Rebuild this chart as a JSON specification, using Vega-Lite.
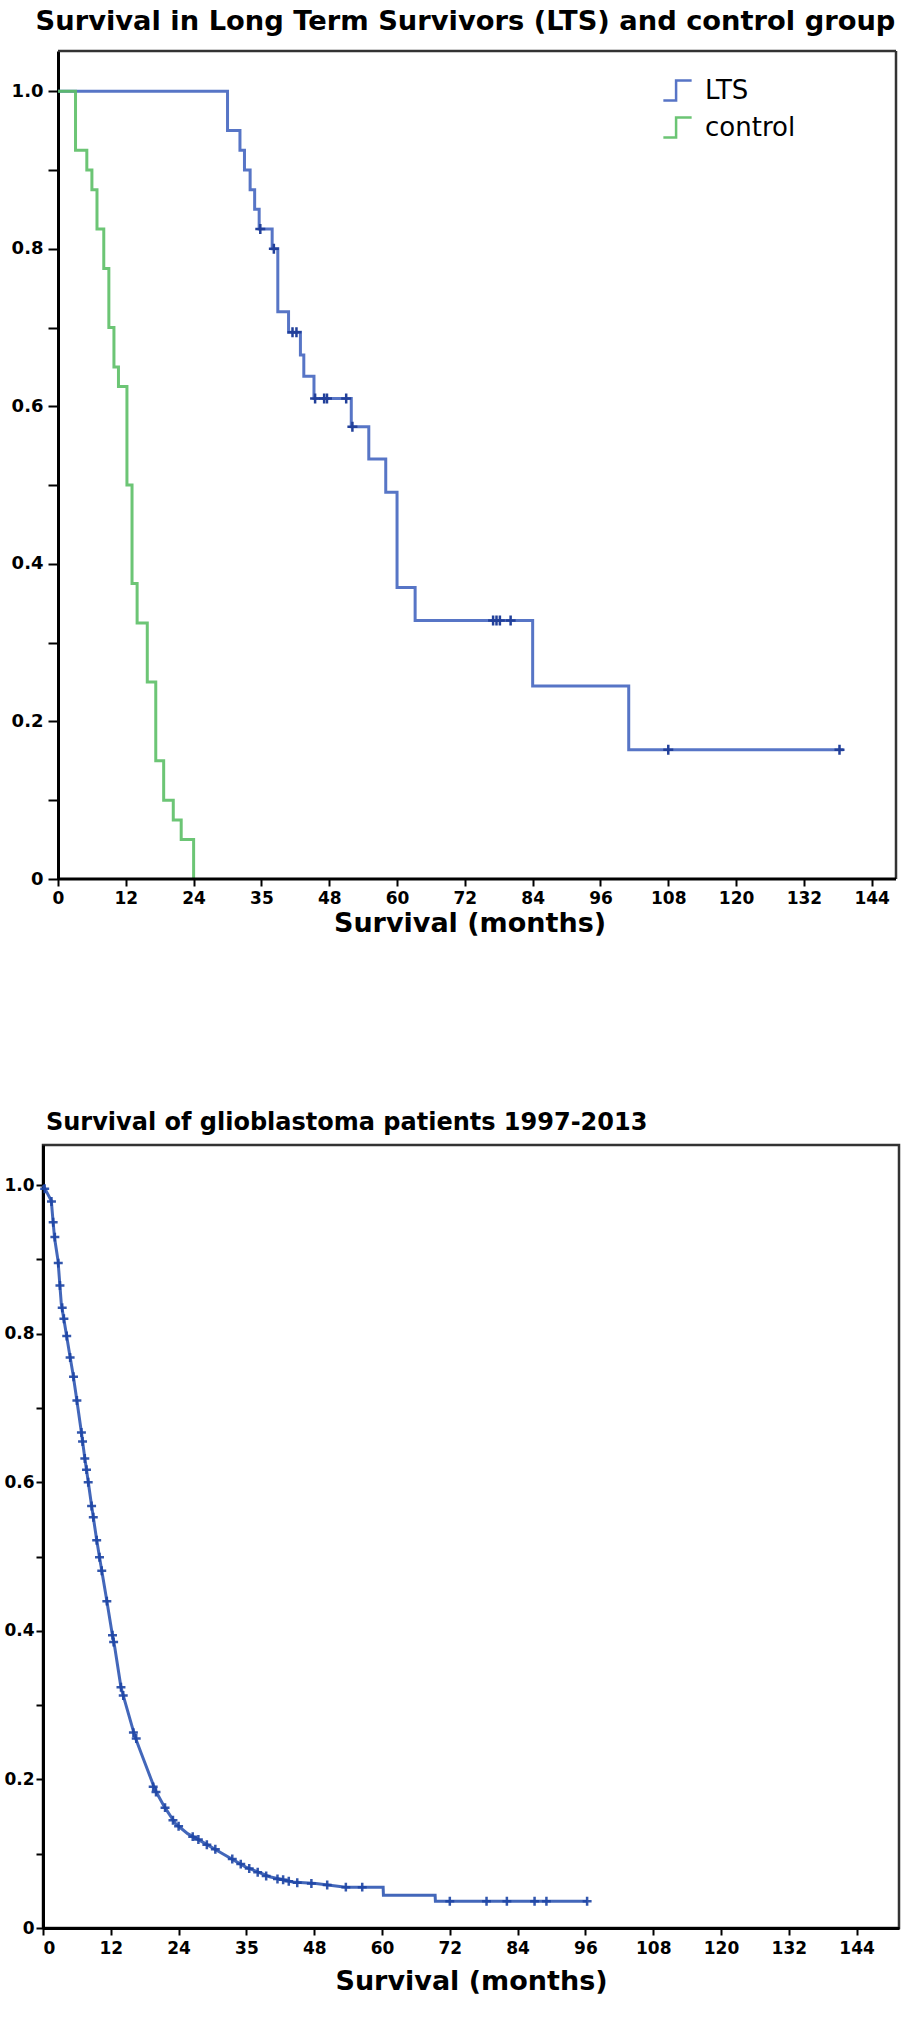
{
  "$schema": "https://vega.github.io/schema/vega-lite/v6.json",
  "background": "white",
  "padding": {"left": 0, "top": 8, "right": 0, "bottom": 0},
  "datasets": {
    "km2": [
      {"group": "LTS", "t": 0, "S": 1.0},
      {"group": "LTS", "t": 30, "S": 0.95},
      {"group": "LTS", "t": 32.2, "S": 0.925},
      {"group": "LTS", "t": 33, "S": 0.9},
      {"group": "LTS", "t": 34, "S": 0.875},
      {"group": "LTS", "t": 34.8, "S": 0.85},
      {"group": "LTS", "t": 35.6, "S": 0.825},
      {"group": "LTS", "t": 37.9, "S": 0.8},
      {"group": "LTS", "t": 38.9, "S": 0.72},
      {"group": "LTS", "t": 40.8, "S": 0.694},
      {"group": "LTS", "t": 42.9, "S": 0.665},
      {"group": "LTS", "t": 43.5, "S": 0.638},
      {"group": "LTS", "t": 45.3, "S": 0.61},
      {"group": "LTS", "t": 51.9, "S": 0.574},
      {"group": "LTS", "t": 55, "S": 0.533},
      {"group": "LTS", "t": 58, "S": 0.491},
      {"group": "LTS", "t": 60, "S": 0.37},
      {"group": "LTS", "t": 63.2, "S": 0.328},
      {"group": "LTS", "t": 84, "S": 0.245},
      {"group": "LTS", "t": 101, "S": 0.164},
      {"group": "LTS", "t": 139, "S": 0.164},
      {"group": "control", "t": 0, "S": 1.0},
      {"group": "control", "t": 3.1, "S": 0.925},
      {"group": "control", "t": 5.1, "S": 0.9},
      {"group": "control", "t": 6.0, "S": 0.875},
      {"group": "control", "t": 6.9, "S": 0.825},
      {"group": "control", "t": 8.1, "S": 0.775},
      {"group": "control", "t": 9.0, "S": 0.7},
      {"group": "control", "t": 9.9, "S": 0.65},
      {"group": "control", "t": 10.7, "S": 0.625},
      {"group": "control", "t": 12.2, "S": 0.5},
      {"group": "control", "t": 13.1, "S": 0.375},
      {"group": "control", "t": 14.0, "S": 0.325},
      {"group": "control", "t": 15.8, "S": 0.25},
      {"group": "control", "t": 17.3, "S": 0.15},
      {"group": "control", "t": 18.7, "S": 0.1},
      {"group": "control", "t": 20.4, "S": 0.075},
      {"group": "control", "t": 21.8, "S": 0.05},
      {"group": "control", "t": 24.0, "S": 0.0}
    ],
    "ltsCens": [
      {"t": 35.8, "S": 0.825}, {"t": 38.2, "S": 0.8}, {"t": 41.5, "S": 0.694}, {"t": 42.2, "S": 0.694},
      {"t": 45.5, "S": 0.61}, {"t": 47.1, "S": 0.61}, {"t": 47.6, "S": 0.61}, {"t": 51.0, "S": 0.61},
      {"t": 52.1, "S": 0.574}, {"t": 77.0, "S": 0.328}, {"t": 77.6, "S": 0.328}, {"t": 78.2, "S": 0.328},
      {"t": 80.1, "S": 0.328}, {"t": 108, "S": 0.164}, {"t": 138.3, "S": 0.164}
    ],
    "gbm": [
      {"t": 0, "S": 1.0}, {"t": 1.47, "S": 0.979}, {"t": 1.77, "S": 0.952}, {"t": 2.06, "S": 0.928},
      {"t": 2.65, "S": 0.899}, {"t": 3.24, "S": 0.84}, {"t": 4.12, "S": 0.8}, {"t": 4.7, "S": 0.773},
      {"t": 5.3, "S": 0.746}, {"t": 5.9, "S": 0.715}, {"t": 6.78, "S": 0.668}, {"t": 7.37, "S": 0.634},
      {"t": 7.96, "S": 0.603}, {"t": 8.55, "S": 0.571}, {"t": 9.43, "S": 0.526}, {"t": 10.0, "S": 0.499},
      {"t": 11.2, "S": 0.445}, {"t": 12.2, "S": 0.398}, {"t": 12.7, "S": 0.378}, {"t": 13.8, "S": 0.324},
      {"t": 14.8, "S": 0.297}, {"t": 16.3, "S": 0.257}, {"t": 17.4, "S": 0.235}, {"t": 19.9, "S": 0.185},
      {"t": 21.5, "S": 0.163}, {"t": 23.5, "S": 0.14}, {"t": 25.6, "S": 0.127}, {"t": 28.2, "S": 0.116},
      {"t": 31.8, "S": 0.1}, {"t": 35.9, "S": 0.082}, {"t": 40.1, "S": 0.069}, {"t": 44.2, "S": 0.062},
      {"t": 48.3, "S": 0.06}, {"t": 53.6, "S": 0.055}, {"t": 60.2, "S": 0.055}, {"t": 60.25, "S": 0.044},
      {"t": 69.4, "S": 0.044}, {"t": 69.45, "S": 0.036}, {"t": 96.3, "S": 0.036}
    ],
    "gbmCens": [
      {"t": 0.3, "S": 0.995}, {"t": 1.5, "S": 0.978}, {"t": 1.8, "S": 0.95}, {"t": 2.1, "S": 0.93},
      {"t": 2.7, "S": 0.895}, {"t": 3.0, "S": 0.865}, {"t": 3.4, "S": 0.835}, {"t": 3.7, "S": 0.82},
      {"t": 4.2, "S": 0.797}, {"t": 4.8, "S": 0.768}, {"t": 5.4, "S": 0.742}, {"t": 6.0, "S": 0.71},
      {"t": 6.8, "S": 0.667}, {"t": 7.0, "S": 0.655}, {"t": 7.4, "S": 0.632}, {"t": 7.7, "S": 0.617},
      {"t": 8.0, "S": 0.6}, {"t": 8.6, "S": 0.568}, {"t": 8.9, "S": 0.553}, {"t": 9.5, "S": 0.522},
      {"t": 10.0, "S": 0.499}, {"t": 10.4, "S": 0.481}, {"t": 11.3, "S": 0.44}, {"t": 12.3, "S": 0.394},
      {"t": 12.5, "S": 0.385}, {"t": 13.8, "S": 0.324}, {"t": 14.2, "S": 0.313}, {"t": 16.0, "S": 0.263},
      {"t": 16.5, "S": 0.255}, {"t": 19.5, "S": 0.19}, {"t": 20.0, "S": 0.183}, {"t": 21.6, "S": 0.162},
      {"t": 23.0, "S": 0.145}, {"t": 24.0, "S": 0.137}, {"t": 26.5, "S": 0.123}, {"t": 27.5, "S": 0.119},
      {"t": 29.0, "S": 0.112}, {"t": 30.5, "S": 0.106}, {"t": 33.5, "S": 0.093}, {"t": 35.0, "S": 0.086},
      {"t": 36.5, "S": 0.08}, {"t": 38.0, "S": 0.075}, {"t": 39.5, "S": 0.07}, {"t": 41.5, "S": 0.066},
      {"t": 42.5, "S": 0.065}, {"t": 43.5, "S": 0.063}, {"t": 45.0, "S": 0.061}, {"t": 47.5, "S": 0.06},
      {"t": 50.3, "S": 0.058}, {"t": 53.6, "S": 0.055}, {"t": 56.5, "S": 0.055}, {"t": 72, "S": 0.036},
      {"t": 78.5, "S": 0.036}, {"t": 82.1, "S": 0.036}, {"t": 87, "S": 0.036}, {"t": 89.1, "S": 0.036},
      {"t": 96.3, "S": 0.036}
    ]
  },
  "vconcat": [
    {
      "width": 853,
      "height": 828,
      "view": {"stroke": null},
      "title": {"text": "Survival in Long Term Survivors (LTS) and control group", "fontSize": 27.3, "anchor": "middle", "offset": 14, "dx": -4},
      "layer": [
        {
          "data": {"name": "km2"},
          "mark": {"type": "line", "interpolate": "step-after", "strokeWidth": 3, "opacity": 0.9},
          "encoding": {
            "x": {"field": "t", "type": "quantitative",
              "scale": {"domain": [-2.655, 148.3], "nice": false, "zero": false},
              "axis": {"values": [0, 12, 24, 36, 48, 60, 72, 84, 96, 108, 120, 132, 144],
                "labelExpr": "datum.value == 36 ? '35' : datum.label", "domain": false,
                "title": "Survival (months)", "titleFontSize": 27, "titleFontWeight": "bold",
                "labelFontSize": 17, "tickSize": 7, "labelPadding": 4, "titlePadding": 4}},
            "y": {"field": "S", "type": "quantitative",
              "scale": {"domain": [0, 1.051], "nice": false, "zero": false},
              "axis": {"values": [0, 0.1, 0.2, 0.3, 0.4, 0.5, 0.6, 0.7, 0.8, 0.9, 1.0],
                "labelExpr": "datum.value == 0 ? '0' : (round(datum.value*10) % 2 == 0 ? format(datum.value, '.1f') : '')",
                "title": null, "offset": -15, "labelFontSize": 18, "tickSize": 10, "labelPadding": 5}},
            "color": {"field": "group", "type": "nominal",
              "scale": {"domain": ["LTS", "control"], "range": ["#4566c0", "#5cbf66"]},
              "legend": {"orient": "none", "legendX": 619, "legendY": 24, "title": null,
                "labelFontSize": 26, "labelFont": "DejaVu Sans", "labelColor": "black",
                "symbolType": "M-1,0.7H-0.1V-0.7H1", "symbolSize": 800, "symbolStrokeWidth": 2.5,
                "rowPadding": 6, "labelOffset": 12}}
          }
        },
        {
          "data": {"values": [{}]},
          "mark": {"type": "rule", "color": "#333", "strokeWidth": 2.5},
          "encoding": {"x": {"datum": 0, "type": "quantitative"}, "x2": {"datum": 148.3}, "y": {"datum": 1.051, "type": "quantitative"}}
        },
        {
          "data": {"values": [{}]},
          "mark": {"type": "rule", "color": "#333", "strokeWidth": 2.5},
          "encoding": {"x": {"datum": 148.3, "type": "quantitative"}, "y": {"datum": 0, "type": "quantitative"}, "y2": {"datum": 1.051}}
        },
        {
          "data": {"values": [{}]},
          "mark": {"type": "rule", "color": "black", "strokeWidth": 3},
          "encoding": {"x": {"datum": 0, "type": "quantitative"}, "x2": {"datum": 148.3}, "y": {"datum": 0, "type": "quantitative"}}
        },
        {
          "data": {"name": "ltsCens"},
          "mark": {"type": "point", "shape": "M0,-1V1M-1,0H1", "filled": false, "strokeWidth": 2.5, "size": 100, "color": "#22409a", "opacity": 1},
          "encoding": {
            "x": {"field": "t", "type": "quantitative"},
            "y": {"field": "S", "type": "quantitative"}
          }
        }
      ]
    },
    {
      "width": 856,
      "height": 783,
      "title": {"text": "Survival of glioblastoma patients 1997-2013", "fontSize": 24, "anchor": "start", "frame": "group", "offset": 10, "dx": 3},
      "layer": [
        {
          "data": {"name": "gbm"},
          "mark": {"type": "line", "strokeWidth": 3, "color": "#2f56b3", "opacity": 0.9},
          "encoding": {
            "x": {"field": "t", "type": "quantitative",
              "scale": {"domain": [0, 151.5], "nice": false, "zero": false},
              "axis": {"values": [0, 12, 24, 36, 48, 60, 72, 84, 96, 108, 120, 132, 144],
                "labelExpr": "datum.value == 36 ? '35' : datum.label",
                "title": "Survival (months)", "titleFontSize": 27, "titleFontWeight": "bold",
                "labelFontSize": 17, "tickSize": 7, "labelPadding": 5, "titlePadding": 12}},
            "y": {"field": "S", "type": "quantitative",
              "scale": {"domain": [0, 1.054], "nice": false, "zero": false},
              "axis": {"values": [0, 0.1, 0.2, 0.3, 0.4, 0.5, 0.6, 0.7, 0.8, 0.9, 1.0],
                "labelExpr": "datum.value == 0 ? '0' : (round(datum.value*10) % 2 == 0 ? format(datum.value, '.1f') : '')",
                "title": null, "labelFontSize": 17, "tickSize": 7, "labelPadding": 2, "minExtent": 41, "maxExtent": 41}},
            "order": {"value": null}
          }
        },
        {
          "data": {"name": "gbmCens"},
          "mark": {"type": "point", "shape": "M0,-1V1M-1,0H1", "filled": false, "strokeWidth": 2.5, "size": 80, "color": "#1e45a5", "opacity": 0.9},
          "encoding": {
            "x": {"field": "t", "type": "quantitative"},
            "y": {"field": "S", "type": "quantitative"}
          }
        }
      ]
    }
  ],
  "spacing": 173,
  "config": {
    "view": {"stroke": "#333", "strokeWidth": 2.5},
    "axis": {"domainColor": "black", "domainWidth": 3, "tickColor": "black", "tickWidth": 2, "grid": false,
      "labelFont": "DejaVu Sans", "labelFontWeight": "bold", "labelColor": "black",
      "titleFont": "DejaVu Sans", "titleColor": "black"},
    "title": {"font": "DejaVu Sans", "fontWeight": "bold", "color": "black"}
  }
}
